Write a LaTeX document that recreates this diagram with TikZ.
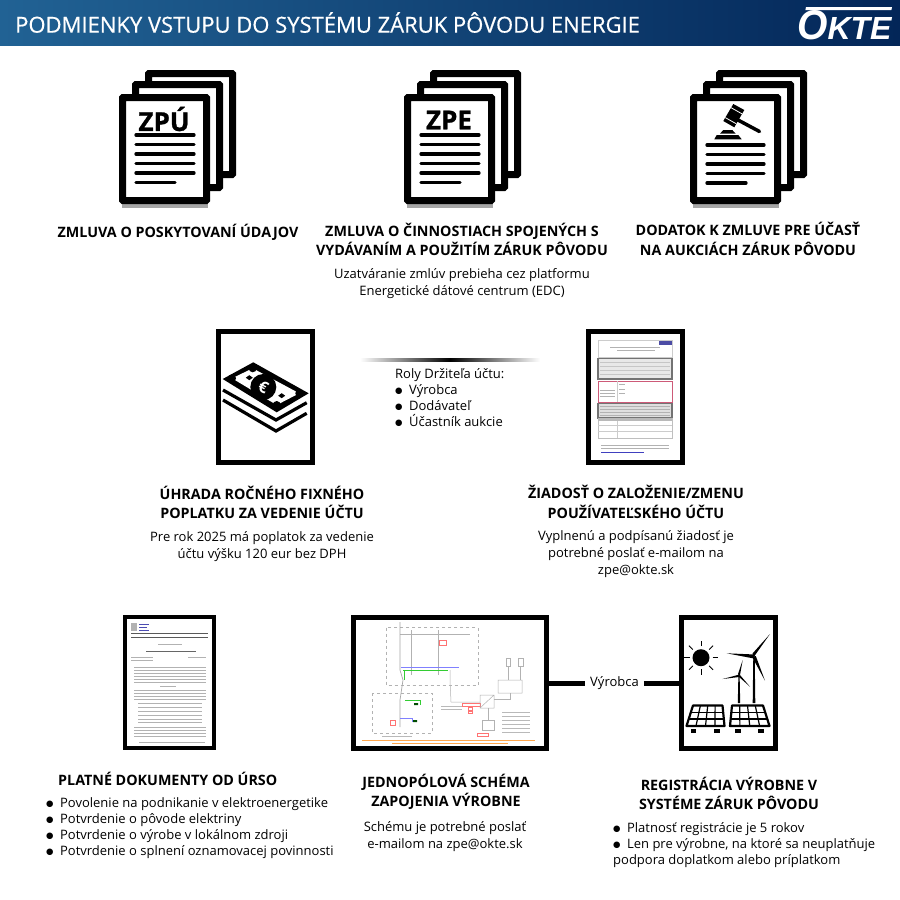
\documentclass[tikz,border=0pt]{standalone}
\usepackage{fontspec}
\usepackage{graphicx}
\setmainfont{Open Sans}
\newfontfamily\bulfont{DejaVu Sans}
\newfontfamily\logofont{Liberation Sans}
\newfontfamily\titlefont[FakeBold=.5]{Open Sans}
\newfontfamily\heavyfont[UprightFont=* Bold,FakeBold=1]{Open Sans}
\usetikzlibrary{shadings}
\definecolor{headL}{RGB}{33,98,148}
\definecolor{headR}{RGB}{3,38,88}
\definecolor{okPink}{RGB}{205,90,120}

\tikzset{
  head/.style={font=\bfseries\fontsize{14.3}{19.5}\selectfont,align=center},
  body/.style={font=\fontsize{13}{16.6}\selectfont,align=center},
  bodyleft/.style={font=\fontsize{13}{16}\selectfont,align=left,anchor=west,inner sep=0pt},
  frame/.style={draw=black,fill=white,line width=5pt,inner sep=0pt},
  page/.style={draw=black,fill=white,line width=7pt,rounded corners=.5pt},
  txtline/.style={line width=3.3pt,line cap=round},
  blurline/.style={gray!60,line width=.8pt},
  schem/.style={gray!60,line width=.5pt},
}
\newcommand{\bul}{\raisebox{1.2pt}{\bulfont\fontsize{8.5}{8}\selectfont ●}\hspace{6.5pt}}
\newcommand{\paperstack}[1]{
  \begin{scope}[xshift=#1]
  \fill[gray!70] (122,203) rectangle (208,208);
  \draw[page] (148.5,73.5) rectangle (232.5,174.5);
  \draw[page] (135.5,84.5) rectangle (219.5,187.5);
  \draw[page] (122.5,97.5) rectangle (206.5,200.5);
  \end{scope}
}
\newcommand{\solarpanel}[4]{
  \draw[black,fill=white,line width=2.2pt,line join=round] (#1,705.5) -- (#2,705.5) -- (#4,726) -- (#3,726) -- cycle;
  \foreach \t in {.25,.5,.75}{
    \pgfmathsetmacro\xa{#1+\t*(#2-#1)}
    \pgfmathsetmacro\xb{#3+\t*(#4-#3)}
    \draw[line width=1.2pt] (\xa,705.5) -- (\xb,726);
  }
  \foreach \t in {.33,.66}{
    \pgfmathsetmacro\xa{#1+\t*(#3-#1)}
    \pgfmathsetmacro\xb{#2+\t*(#4-#2)}
    \pgfmathsetmacro\yy{705.5+\t*20.5}
    \draw[line width=1.2pt] (\xa,\yy) -- (\xb,\yy);
  }
}

\begin{document}
\begin{tikzpicture}[x=1pt,y=-1pt]
\useasboundingbox (0,0) rectangle (900,900);

% header
\shade[left color=headL,right color=headR] (0,0) rectangle (900,45);
\node[text=white,anchor=west,inner sep=0pt,font=\titlefont\fontsize{22}{24}\selectfont] (title) at (15,22.5) {PODMIENKY VSTUPU DO SYSTÉMU ZÁRUK PÔVODU ENERGIE};
\fill[white] (806,7) -- (892,7) -- (891.4,10) -- (805.4,10) -- cycle;
\node[text=white,anchor=base west,inner sep=0pt,font=\logofont\bfseries\itshape\fontsize{32}{32}\selectfont] (logo) at (797,39) {\scalebox{1.22}[1.3]{O}KTE};

% top row
\paperstack{0pt}
\paperstack{285pt}
\paperstack{571pt}
\foreach \d in {0,285}{
  \foreach \yy in {135,144.5,154,163.5,173}
    \draw[txtline] (\d+136,\yy) -- (\d+194,\yy);
  \draw[txtline] (\d+136,182.5) -- (\d+175,182.5);
}
\foreach \yy in {145,154.5,164,173.5}
  \draw[txtline] (707,\yy) -- (764,\yy);
\draw[txtline] (707,183) -- (746,183);
\node[font=\heavyfont\fontsize{26}{26}\selectfont,inner sep=0pt] (zpu) at (164,119) {ZPÚ};
\node[font=\heavyfont\fontsize{26}{26}\selectfont,inner sep=0pt] (zpe) at (449,120) {ZPE};

% gavel
\fill (733.3,104) -- (744.3,110) -- (734.3,127.3) -- (723.3,121) -- cycle;
\draw[white,line width=.8pt] (731.1,107.7) -- (742.1,113.9);
\draw[white,line width=.8pt] (725.3,117.6) -- (736.3,123.8);
\draw[line width=3.5pt,line cap=round] (738,120) -- (759.5,131.5);
\fill (714.3,139.3) -- (716.7,135) -- (738.3,135) -- (741.7,139.3) -- cycle;
\fill (720,133.7) -- (723.3,130) -- (732.3,130) -- (735.7,133.7) -- cycle;

\node[head] (zpuhead) at (178,232) {ZMLUVA O POSKYTOVANÍ ÚDAJOV};
\node[head] (zpehead) at (462,239.5) {ZMLUVA O ČINNOSTIACH SPOJENÝCH S\\VYDÁVANÍM A POUŽITÍM ZÁRUK PÔVODU};
\node[body] (zpetext) at (462,283.5) {Uzatváranie zmlúv prebieha cez platformu\\Energetické dátové centrum (EDC)};
\node[head] (dodhead) at (748,239) {DODATOK K ZMLUVE PRE ÚČASŤ\\NA AUKCIÁCH ZÁRUK PÔVODU};

% middle row
\node[frame,minimum width=94pt,minimum height=131pt] (money) at (265.5,397) {};
\draw[line width=3.2pt,line join=miter] (223,390) -- (276,420) -- (306.7,402.7);
\draw[line width=3.2pt,line join=miter] (223,400) -- (276,431) -- (306.7,413.3);
\fill (222.7,379) -- (253.3,362.3) -- (308.7,393.3) -- (276.7,412.3) -- cycle;
\fill[white] (232,378.3) -- (252.7,368.3) -- (299.3,393.3) -- (276.7,405) -- cycle;
\fill (232,378.3) circle (4) (252.7,368.3) circle (4) (299.3,393.3) circle (4) (276.7,405) circle (4);
\fill (263.3,387) circle (13);
\fill (245.8,377.7) -- (249.3,375.2) -- (252.8,377.7) -- (249.3,380.2) -- cycle;
\fill (278.2,395.7) -- (281.7,393.2) -- (285.2,395.7) -- (281.7,398.2) -- cycle;
\node[text=white,rotate=-25,font=\bfseries\fontsize{16}{16}\selectfont,inner sep=0pt] (euro) at (263.3,387) {€};

\shade[left color=white,right color=black] (360,358.5) rectangle (450,361.5);
\shade[left color=black,right color=white] (450,358.5) rectangle (540,361.5);
\node[bodyleft] (roly) at (395,398) {Roly Držiteľa účtu:\\\bul Výrobca\\\bul Dodávateľ\\\bul Účastník aukcie};

\node[frame,minimum width=94pt,minimum height=131pt] (form) at (635.5,397) {};
\draw[black!55,fill=gray!18,line width=1.2pt] (598,358.5) rectangle (672,379);
\draw[black!55,fill=gray!25,line width=1.2pt] (598,403.5) rectangle (672,418);
\draw[gray!40,line width=.6pt] (598,340) rectangle (672,357);
\draw[okPink,line width=.8pt,fill=white] (598,381) rectangle (672,402);
\fill[blue!50!black,opacity=.7] (659,341) rectangle (672,345);
\draw[gray!50,line width=.6pt] (598,418) rectangle (672,438);
\fill[gray!55] (598,418) rectangle (672,421);
\draw[blurline] (610,347) -- (660,347);
\draw[blurline] (617,350) -- (655,350);
\foreach \yy in {362,366,370,374}
  \draw[gray!45,line width=.5pt] (600,\yy) -- (670,\yy);
\foreach \yy in {406,409,412,415}
  \draw[gray!60,line width=.5pt] (600,\yy) -- (670,\yy);
\foreach \yy in {390,393,396}
  \draw[blurline] (600,\yy) -- (615,\yy);
\draw[gray!40,line width=.5pt] (617,381) -- (617,402);
\foreach \yy in {384,389,393}
  \draw[blurline] (619,\yy) -- (625,\yy);
\foreach \yy in {425,431}
  \draw[gray!40,line width=.5pt] (598,\yy) -- (672,\yy);
\draw[gray!40,line width=.5pt] (617,421) -- (617,438);
\foreach \yy in {445,448}
  \draw[blurline] (601,\yy) -- (669,\yy);
\draw[blue!50!gray,line width=.7pt] (601,452) -- (644,452);

\node[head] (feehead) at (262,502.5) {ÚHRADA ROČNÉHO FIXNÉHO\\POPLATKU ZA VEDENIE ÚČTU};
\node[body] (feetext) at (262,546.5) {Pre rok 2025 má poplatok za vedenie\\účtu výšku 120 eur bez DPH};
\node[head] (reqhead) at (636,502) {ŽIADOSŤ O ZALOŽENIE/ZMENU\\POUŽÍVATEĽSKÉHO ÚČTU};
\node[body] (reqtext) at (636,554) {Vyplnenú a podpísanú žiadosť je\\potrebné poslať e-mailom na\\zpe@okte.sk};

% bottom row
\node[frame,minimum width=89pt,minimum height=131pt,line width=4.5pt] (ruling) at (169.5,682.5) {};
\fill[gray!60] (131,623) rectangle (137,631);
\draw[blue!40!gray,line width=.6pt] (139,624) -- (149,624) (139,627) -- (147,627) (139,630) -- (149,630);
\foreach \yy in {633,637}
  \draw[black!65,line width=.8pt] (131,\yy) -- (208,\yy);
\draw[blurline] (158,644) -- (182,644);
\draw[black!60,line width=.8pt] (146,651) -- (196,651);
\foreach \yy in {657,660}{
  \draw[blurline] (131,\yy) -- (153,\yy);
}
\draw[blurline] (188,657) -- (206,657);
\foreach \yy in {667,670,673,676,679,682}
  \draw[blurline] (134,\yy) -- (206,\yy);
\draw[blurline] (160,686) -- (176,686);
\foreach \yy in {690,693,696,699}
  \draw[blurline] (134,\yy) -- (206,\yy);
\foreach \yy in {703,707,711,715,719,722}
  \draw[blurline] (138,\yy) -- (202,\yy);
\foreach \yy in {727,730,733,736}
  \draw[blurline] (134,\yy) -- (206,\yy);
\draw[blurline] (139,742) -- (205,742);

\node[frame,minimum width=193pt,minimum height=131pt] (schema) at (450,683) {};
\draw[schem,dashed] (386,627.5) rectangle (478,685);
\draw[schem,dashed] (372,693) rectangle (432,733);
\draw[schem] (411,630) -- (411,675) (438,630) -- (438,675) (400,634) -- (470,634);
\draw[gray!70,line width=.7pt] (400,622) -- (400,670) -- (403,680) -- (400,700) -- (400,727);
\draw[blue!50,line width=.6pt] (401,667) -- (459,667);
\draw[green!60!gray,line width=.6pt] (403,670) -- (448,670) (404,671) -- (404,680);
\draw[schem] (450,670) -- (450,680) -- (451,702) -- (480,702);
\draw[green!60!gray,line width=.6pt] (405,700) -- (420,700) -- (420,705);
\draw[blue!50,line width=.6pt] (400,718) -- (412,718) -- (412,722);
\fill[black!70!green] (414,703) rectangle (418,705) (413,720) rectangle (417,722);
\draw[red!55,line width=.5pt] (439,640) rectangle (446,645);
\draw[red!55,line width=.5pt] (390,720) rectangle (395,725);
\draw[red!55,line width=.5pt] (462,703) rectangle (480,706) (468,707) rectangle (472,710) (468,711) rectangle (472,713) (477,733) rectangle (488,736);
\draw[schem] (480,695) rectangle (494,708) (480,708) -- (494,695) (498,680) rectangle (522,693);
\draw[schem] (494,699) -- (510,699) -- (510,693);
\draw[schem] (488,708) -- (488,720);
\draw[schem] (482,720) rectangle (494,730);
\draw[schem] (506,658) rectangle (510,666) (518,658) rectangle (523,666);
\draw[schem] (508,666) -- (508,680) (520,666) -- (520,680);
\foreach \yy in {712,716,720,724,728,732}
  \draw[gray!55,line width=.5pt] (502,\yy) -- (530,\yy);
\foreach \yy in {706,709}
  \draw[gray!55,line width=.5pt] (441,\yy) -- (462,\yy);
\draw[gray!55,line width=.5pt] (382,736) -- (412,736);
\draw[orange!70,line width=.6pt] (362,740) -- (535,740);
\draw[orange!70,line width=.6pt] (392,743.5) -- (508,743.5);

\node[frame,minimum width=94pt,minimum height=131pt] (solar) at (728,683) {};
\fill (701,657.7) circle (8.5);
\foreach \a in {0,45,...,315}
  \draw[line width=.9pt] (\a:11.5) ++(701,657.7) -- ++(\a:5.5);
% turbines
\fill (752.7,703) -- (753.3,656) -- (754.7,656) -- (755.3,703) -- cycle;
\fill (737.8,703) -- (738.4,675) -- (739.6,675) -- (740.2,703) -- cycle;
\fill (754,656.7) -- (752.5,653.5) -- (770,634) -- (755.5,654.5) -- cycle;
\fill (754,656.7) -- (755,654.5) -- (726.7,653.3) -- (754,658.5) -- cycle;
\fill (754,656.7) -- (755.8,656) -- (765,680.7) -- (753,658.5) -- cycle;
\fill (739,675.7) -- (738,674) -- (742.7,660) -- (740,675) -- cycle;
\fill (739,675.7) -- (739.5,674.5) -- (722.7,679) -- (739,677) -- cycle;
\fill (739,675.7) -- (740,675) -- (750,686.7) -- (738.5,676.5) -- cycle;
\solarpanel{693}{722.5}{686.5}{724.5}
\solarpanel{732}{763}{730}{769.5}
\fill (691,729.3) rectangle (696,732.7);
\fill (714,729.3) rectangle (720,732.7);
\fill (735,729.3) rectangle (740.5,732.7);
\fill (758,729.3) rectangle (764,732.7);

\node[body,inner sep=5pt] (vyrobca) at (614.5,683) {Výrobca};
\draw[line width=5pt] (schema) -- (vyrobca);
\draw[line width=5pt] (vyrobca) -- (solar);

\node[head,anchor=west,inner sep=0pt] (ursohead) at (58,779) {PLATNÉ DOKUMENTY OD ÚRSO};
\node[bodyleft] (ursolist) at (46,828.5) {\bul Povolenie na podnikanie v elektroenergetike\\\bul Potvrdenie o pôvode elektriny\\\bul Potvrdenie o výrobe v lokálnom zdroji\\\bul Potvrdenie o splnení oznamovacej povinnosti};
\node[head] (schemahead) at (446,792) {JEDNOPÓLOVÁ SCHÉMA\\ZAPOJENIA VÝROBNE};
\node[body] (schematext) at (445,836.5) {Schému je potrebné poslať\\e-mailom na zpe@okte.sk};
\node[head] (reghead) at (729,793.5) {REGISTRÁCIA VÝROBNE V\\SYSTÉME ZÁRUK PÔVODU};
\node[bodyleft] (reglist) at (613,845) {\bul Platnosť registrácie je 5 rokov\\\bul Len pre výrobne, na ktoré sa neuplatňuje\\podpora doplatkom alebo príplatkom};
\end{tikzpicture}
\end{document}
